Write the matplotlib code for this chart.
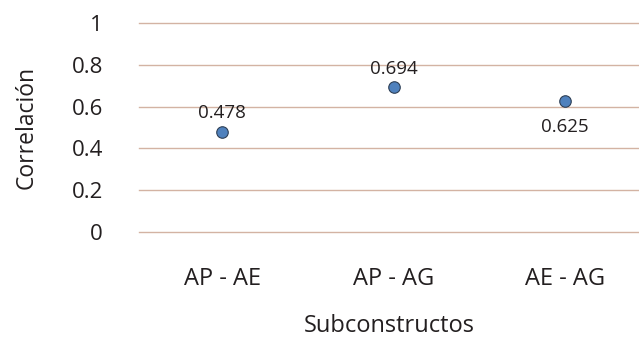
import matplotlib.pyplot as plt

pairs = ['AP - AE', 'AP - AG', 'AE - AG']
corr = [0.478, 0.694, 0.625]
yticks = [0, 0.2, 0.4, 0.6, 0.8, 1]
ytick_labels = ['0', '0.2', '0.4', '0.6', '0.8', '1']

plt.rcParams['font.family'] = ['Open Sans', 'DejaVu Sans']
txt = '#231F20'

fig = plt.figure(figsize=(6.39, 3.37), dpi=100)
ax = fig.add_axes([0.2175, 0.3116, 0.7825, 0.6202])

x = range(len(pairs))
ax.plot(x, corr, 'o', color='#4F81BD', markeredgecolor='#2E3F55',
        markeredgewidth=0.8, markersize=8.3, zorder=3, clip_on=False)

# labels: first two above the dot, last one below
offsets = [10, 9, -22]
for i, (v, dy) in enumerate(zip(corr, offsets)):
    ax.annotate(f'{v:.3f}', (i, v), xytext=(0, dy), textcoords='offset points',
                ha='center', va='baseline', fontsize=13.5, color=txt)

ax.set_ylim(0, 1)
ax.set_xlim(-0.484, 2.43)
ax.set_yticks(yticks)
ax.set_yticklabels(ytick_labels)
ax.set_xticks(list(x))
ax.set_xticklabels(pairs)
ax.grid(axis='y', color='#D3B3A3', linewidth=1.0)
for gl in ax.get_ygridlines():
    gl.set_clip_on(False)
ax.set_axisbelow(True)
for s in ax.spines.values():
    s.set_visible(False)
ax.tick_params(axis='y', length=0, pad=26, labelsize=16, colors=txt)
ax.tick_params(axis='x', length=0, pad=25, labelsize=17, colors=txt)

ax.set_ylabel('Correlación', fontsize=16.5, color=txt, labelpad=24)
ax.set_xlabel('Subconstructos', fontsize=17, color=txt, labelpad=17)

fig.savefig('out.png', dpi=100)
